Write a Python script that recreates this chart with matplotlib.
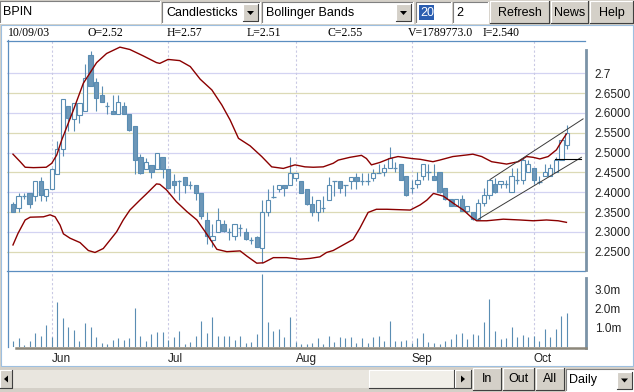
import matplotlib
matplotlib.use('Agg')
import matplotlib.pyplot as plt
from matplotlib.patches import Rectangle, Polygon

# ---- data (bar index 0 = first trading day shown) ----
opens = [2.370, 2.360, 2.391, 2.397, 2.391, 2.428, 2.391, 2.408, 2.447, 2.508,
         2.617, 2.585, 2.596, 2.606, 2.745, 2.677, 2.646, 2.617, 2.606, 2.597,
         2.617, 2.598, 2.567, 2.489, 2.458, 2.469, 2.459, 2.489, 2.458, 2.428,
         2.428, 2.439, 2.418, 2.418, 2.399, 2.330, 2.279, 2.299, 2.321, 2.299,
         2.290, 2.310, 2.299, 2.279, 2.288, 2.259, 2.349, 2.388, 2.408, 2.418,
         2.418, 2.437, 2.428, 2.408, 2.370, 2.349, 2.361, 2.380, 2.428, 2.428,
         2.418, 2.428, 2.439, 2.428, 2.428, 2.437, 2.448, 2.450, 2.460, 2.460,
         2.471, 2.441, 2.410, 2.420, 2.441, 2.450, 2.441, 2.450, 2.410, 2.382,
         2.364, 2.382, 2.353, 2.351, 2.332, 2.372, 2.393, 2.420, 2.420, 2.420,
         2.401, 2.431, 2.431, 2.450, 2.460, 2.425, 2.441, 2.441, 2.450, 2.481,
         2.520]
highs = [2.375, 2.399, 2.399, 2.399, 2.428, 2.439, 2.408, 2.460, 2.529, 2.636,
         2.617, 2.625, 2.625, 2.723, 2.755, 2.688, 2.669, 2.627, 2.646, 2.646,
         2.627, 2.598, 2.567, 2.497, 2.487, 2.469, 2.498, 2.489, 2.458, 2.447,
         2.430, 2.439, 2.428, 2.418, 2.399, 2.351, 2.321, 2.361, 2.330, 2.310,
         2.321, 2.320, 2.310, 2.288, 2.290, 2.380, 2.408, 2.418, 2.418, 2.418,
         2.489, 2.448, 2.428, 2.408, 2.391, 2.380, 2.391, 2.439, 2.428, 2.428,
         2.418, 2.439, 2.448, 2.448, 2.448, 2.458, 2.470, 2.470, 2.513, 2.475,
         2.471, 2.441, 2.431, 2.450, 2.471, 2.471, 2.471, 2.450, 2.410, 2.382,
         2.382, 2.393, 2.364, 2.351, 2.382, 2.410, 2.431, 2.435, 2.429, 2.431,
         2.460, 2.460, 2.486, 2.481, 2.460, 2.441, 2.471, 2.471, 2.490, 2.532,
         2.570]
lows = [2.350, 2.349, 2.383, 2.359, 2.378, 2.378, 2.378, 2.408, 2.447, 2.491,
        2.554, 2.554, 2.575, 2.606, 2.669, 2.606, 2.627, 2.597, 2.597, 2.597,
        2.597, 2.554, 2.447, 2.447, 2.458, 2.437, 2.459, 2.437, 2.410, 2.397,
        2.380, 2.397, 2.408, 2.380, 2.332, 2.269, 2.261, 2.299, 2.299, 2.279,
        2.279, 2.289, 2.279, 2.269, 2.261, 2.221, 2.340, 2.385, 2.400, 2.391,
        2.418, 2.428, 2.397, 2.368, 2.340, 2.328, 2.349, 2.380, 2.391, 2.399,
        2.391, 2.408, 2.408, 2.418, 2.418, 2.428, 2.448, 2.440, 2.460, 2.450,
        2.431, 2.390, 2.397, 2.410, 2.431, 2.431, 2.431, 2.399, 2.380, 2.364,
        2.364, 2.353, 2.347, 2.330, 2.330, 2.364, 2.382, 2.399, 2.410, 2.410,
        2.401, 2.420, 2.420, 2.450, 2.420, 2.420, 2.441, 2.441, 2.450, 2.481,
        2.510]
closes = [2.351, 2.391, 2.391, 2.371, 2.428, 2.393, 2.408, 2.458, 2.508, 2.636,
          2.588, 2.625, 2.625, 2.687, 2.669, 2.638, 2.627, 2.617, 2.598, 2.627,
          2.598, 2.558, 2.481, 2.449, 2.477, 2.451, 2.498, 2.459, 2.410, 2.418,
          2.428, 2.418, 2.418, 2.399, 2.340, 2.290, 2.290, 2.330, 2.301, 2.299,
          2.320, 2.310, 2.282, 2.279, 2.263, 2.349, 2.380, 2.388, 2.418, 2.410,
          2.448, 2.448, 2.399, 2.371, 2.351, 2.380, 2.361, 2.418, 2.428, 2.410,
          2.418, 2.439, 2.428, 2.428, 2.428, 2.448, 2.448, 2.460, 2.486, 2.460,
          2.431, 2.393, 2.410, 2.430, 2.471, 2.450, 2.431, 2.401, 2.382, 2.364,
          2.382, 2.353, 2.364, 2.332, 2.372, 2.393, 2.431, 2.401, 2.429, 2.420,
          2.441, 2.431, 2.481, 2.471, 2.431, 2.425, 2.450, 2.460, 2.481, 2.532,
          2.550]
volumes = [0.31, 0.49, 0.10, 0.31, 0.75, 0.57, 1.15, 0.54, 2.34, 1.53, 1.06, 0.89,
           0.31, 1.23, 1.02, 0.54, 0.23, 0.16, 0.36, 0.49, 0.36, 0.45, 2.05, 0.59,
           0.31, 0.68, 0.78, 0.78, 0.36, 0.54, 0.83, 0.16, 0.26, 0.57, 1.35, 0.71,
           1.58, 0.57, 0.57, 0.57, 0.36, 0.57, 0.19, 0.28, 0.68, 3.78, 1.30, 0.83,
           0.94, 0.54, 1.56, 0.28, 0.16, 0.16, 0.19, 0.45, 0.16, 0.59, 0.28, 0.54,
           0.49, 0.54, 0.19, 0.49, 0.19, 0.54, 0.59, 0.31, 1.35, 0.31, 0.31, 0.36,
           0.19, 0.45, 0.71, 0.26, 0.19, 0.16, 0.33, 0.40, 0.66, 0.71, 0.40, 0.66,
           0.63, 1.30, 2.52, 0.83, 0.42, 0.49, 1.06, 0.54, 0.63, 0.54, 0.59, 0.31,
           0.94, 0.54, 0.94, 1.63, 1.79]

upper_idx = [0, 1.3, 2.2, 3.7, 6, 7, 7.9, 8.8, 10.9, 12.7, 15.1, 16.9, 19.3, 21.1,
             23.5, 25.9, 26.5, 28, 30.1, 32, 33.8, 35.9, 37.7, 39.2, 40.7, 42.8,
             44.9, 46.7, 48.8, 50.9, 52.7, 54.2, 56, 57.8, 58.7, 60.8, 62.9, 63.8,
             64.7, 66.2, 68, 69.5, 72, 73.5, 75.8, 77, 79.4, 81.9, 83, 84.6, 86.4,
             89.1, 91.2, 92.7, 93.9, 95.1, 96.6, 98.1, 99, 99.9]
upper_band = [2.496, 2.477, 2.463, 2.462, 2.463, 2.473, 2.494, 2.532, 2.607, 2.675,
              2.727, 2.750, 2.766, 2.760, 2.744, 2.727, 2.725, 2.735, 2.732, 2.717,
              2.685, 2.658, 2.620, 2.582, 2.536, 2.517, 2.490, 2.464, 2.460, 2.469,
              2.464, 2.463, 2.464, 2.473, 2.481, 2.488, 2.493, 2.485, 2.469, 2.475,
              2.485, 2.490, 2.485, 2.483, 2.477, 2.481, 2.490, 2.494, 2.496, 2.490,
              2.477, 2.471, 2.477, 2.490, 2.488, 2.484, 2.490, 2.507, 2.528, 2.547]
lower_idx = [0, 0.9, 2.2, 3.1, 5.5, 6.7, 7.6, 8.5, 9.1, 10.3, 12.1, 13.6, 14.8, 16.3,
             17.5, 18.7, 19.9, 21.1, 22.9, 24.1, 25.9, 26.5, 27.7, 29.5, 31.4, 33.2,
             34.9, 36.8, 38.6, 41, 42.2, 44, 45.2, 47, 49.4, 51.8, 53.6, 55.4, 56.6,
             57.8, 59.6, 61.4, 62.6, 64.1, 65.6, 67.5, 71.7, 73.5, 74.7, 75.9, 77.7,
             79.5, 81.3, 82.8, 83.7, 85.5, 88.5, 91.5, 93.9, 96.3, 98.4, 99.9]
lower_band = [2.267, 2.296, 2.330, 2.337, 2.338, 2.343, 2.338, 2.317, 2.295, 2.284,
              2.273, 2.253, 2.248, 2.258, 2.279, 2.300, 2.330, 2.355, 2.380, 2.396,
              2.421, 2.420, 2.406, 2.376, 2.351, 2.330, 2.296, 2.256, 2.250, 2.252,
              2.239, 2.221, 2.222, 2.235, 2.235, 2.231, 2.233, 2.237, 2.248, 2.253,
              2.267, 2.281, 2.309, 2.349, 2.357, 2.357, 2.355, 2.368, 2.380, 2.397,
              2.390, 2.372, 2.355, 2.336, 2.328, 2.328, 2.332, 2.330, 2.328, 2.330,
              2.328, 2.324]

# user drawn trend lines (bar index, price)
chan_top_x = [86.1, 102.9]
chan_top_y = [2.432, 2.585]
chan_bot_x = [84.0, 102.6]
chan_bot_y = [2.332, 2.488]
flat_x = [97.9, 102.5]
flat_y = [2.484, 2.484]

month_idx = [7, 28, 51, 72, 94]
month_lbl = ['Jun', 'Jul', 'Aug', 'Sep', 'Oct']
price_ticks = [2.25, 2.30, 2.35, 2.40, 2.45, 2.50, 2.55, 2.60, 2.65, 2.70]
price_lbls = ['2.2500', '2.3000', '2.3500', '2.4000', '2.4500', '2.5000',
              '2.5500', '2.6000', '2.6500', '2.7']
vol_ticks = [1, 2, 3]
vol_lbls = ['1.0m', '2.0m', '3.0m']

info = [(8, '10/09/03'), (87, 'O=2.52'), (167, 'H=2.57'), (247, 'L=2.51'),
        (327, 'C=2.55'), (408, 'V=1789773.0'), (483, 'I=2.540')]

# ---- colours ----
GRAY = '#d4d0c8'
CANDLE = '#5a8db3'
CANDLE_FILL = '#6d97b8'
BAND = '#8b0000'
FRAME = '#5b8ec0'

W, H = 634, 392
fig = plt.figure(figsize=(W / 100, H / 100), dpi=100)
fig.patch.set_facecolor(GRAY)

bg = fig.add_axes([0, 0, 1, 1])
bg.set_xlim(0, W)
bg.set_ylim(H, 0)
bg.axis('off')


def px_axes(x0, y0, x1, y1, z=1):
    a = fig.add_axes([x0 / W, 1 - y1 / H, (x1 - x0) / W, (y1 - y0) / H], zorder=z)
    a.patch.set_alpha(0)
    return a


def box(x0, y0, x1, y1, fc, raised=True):
    bg.add_patch(Rectangle((x0, y0), x1 - x0, y1 - y0, fc=fc, ec='none'))
    tl, br = ('white', '#404040') if raised else ('#808080', 'white')
    bg.plot([x0, x0, x1], [y1, y0, y0], color=tl, lw=0.8)
    bg.plot([x0, x1, x1], [y1, y1, y0], color=br, lw=0.8)


def arrow(cx, cy, d='down'):
    if d == 'down':
        pts = [(cx - 3.5, cy - 2), (cx + 3.5, cy - 2), (cx, cy + 2)]
    elif d == 'left':
        pts = [(cx + 2, cy - 3.5), (cx + 2, cy + 3.5), (cx - 2, cy)]
    else:
        pts = [(cx - 2, cy - 3.5), (cx - 2, cy + 3.5), (cx + 2, cy)]
    bg.add_patch(Polygon(pts, closed=True, fc='black', ec='none'))


def label(x, y, s, size=9, ha='left', family='Liberation Sans', color='black'):
    bg.text(x, y, s, ha=ha, va='center', fontsize=size, family=family, color=color)


# top toolbar
box(0, 1, 160, 23, 'white', raised=False)
label(3, 12, 'BPIN')
box(162, 2, 260, 23, 'white', raised=False)
label(166, 13, 'Candlesticks')
box(243, 4, 258, 21, GRAY)
arrow(250.5, 13)
box(262, 2, 413, 23, 'white', raised=False)
label(266, 13, 'Bollinger Bands')
box(396, 4, 411, 21, GRAY)
arrow(403.5, 13)
box(416, 2, 451, 23, 'white', raised=False)
bg.add_patch(Rectangle((419, 5), 15, 15, fc='#2a5db0', ec='none'))
label(420, 12.5, '20', color='white')
box(453, 2, 488, 23, 'white', raised=False)
label(456, 12.5, '2')
box(490, 1, 549, 23, GRAY)
label(519.5, 12.5, 'Refresh', ha='center')
box(551, 1, 588, 23, GRAY)
label(569.5, 12.5, 'News', ha='center')
box(590, 1, 633, 23, GRAY)
label(611.5, 12.5, 'Help', ha='center')

# white chart panel with light blue border
bg.add_patch(Rectangle((0.5, 24.5), 632, 341.5, fc='white', ec='#9dbfe0', lw=0.8))
for x, s in info:
    label(x, 33, s, size=8.5, family='Liberation Serif')

# bottom toolbar
bg.add_patch(Rectangle((0, 367), W, H - 367, fc=GRAY, ec='none'))
bg.add_patch(Rectangle((12, 370), 443, 18, fc='#e9e6df', ec='none'))
box(0, 370, 12, 388, GRAY)
arrow(6, 379, 'left')
box(369, 370, 454, 388, '#f1efe9')
box(455, 370, 471, 388, GRAY)
arrow(463, 379, 'right')
box(473, 368, 501, 390, GRAY)
label(487, 379, 'In', ha='center')
box(503, 368, 534, 390, GRAY)
label(518.5, 379, 'Out', ha='center')
box(536, 368, 564, 390, GRAY)
label(550, 379, 'All', ha='center')
box(566, 369, 634, 391, 'white', raised=False)
label(569, 380, 'Daily')
box(617, 372, 632, 389, GRAY)
arrow(624.5, 380.5)

# ---- price panel ----
ax = px_axes(7, 40, 585, 270)
vax = px_axes(7, 270, 585, 347)
for a in (ax, vax):
    a.set_xlim(-1.08, 103.25)
    for sp in a.spines.values():
        sp.set_visible(False)
ax.set_ylim(2.2038, 2.784)
vax.set_ylim(0, 4.01)

for k, p in enumerate(price_ticks):
    ax.axhline(p, color='#d3d3f2' if k % 2 else '#dcdab6', lw=0.9, zorder=0)
for m in month_idx:
    for a in (ax, vax):
        a.axvline(m, color='#c9c9e4', lw=0.8, ls=(0, (2, 2)), zorder=0)

for i in range(len(opens)):
    o, h, l, c = opens[i], highs[i], lows[i], closes[i]
    ax.vlines(i, l, h, color=CANDLE, lw=0.8, zorder=2)
    if abs(c - o) < 0.002:
        ax.hlines(o, i - 0.4, i + 0.4, color=CANDLE, lw=0.9, zorder=3)
    else:
        ax.add_patch(Rectangle((i - 0.38, min(o, c)), 0.76, abs(c - o),
                               fc=CANDLE_FILL if c < o else 'white',
                               ec=CANDLE, lw=0.8, zorder=3))

ax.plot(upper_idx, upper_band, color=BAND, lw=1.0, zorder=4)
ax.plot(lower_idx, lower_band, color=BAND, lw=1.0, zorder=4)
ax.plot(chan_top_x, chan_top_y, color='#3a3a3a', lw=0.7, zorder=5)
ax.plot(chan_bot_x, chan_bot_y, color='#3a3a3a', lw=0.7, zorder=5)
ax.plot(flat_x, flat_y, color='black', lw=0.8, zorder=5)

ax.yaxis.tick_right()
ax.set_yticks(price_ticks)
ax.set_yticklabels(price_lbls, family='Liberation Sans', fontsize=8.5, color='#222222')
ax.tick_params(axis='y', length=0, pad=7)
ax.set_xticks([])

# ---- volume panel ----
vax.vlines(range(len(volumes)), 0, volumes, color=CANDLE, lw=0.8)
vax.yaxis.tick_right()
vax.set_yticks(vol_ticks)
vax.set_yticklabels(vol_lbls, family='Liberation Sans', fontsize=8.5, color='#222222')
vax.tick_params(axis='y', length=0, pad=7)
vax.set_xticks(month_idx)
vax.set_xticklabels(month_lbl, family='Liberation Sans', fontsize=8.5,
                    color='#222222', ha='left')
vax.tick_params(axis='x', length=0, pad=4)

# ---- frame lines on top ----
fg = fig.add_axes([0, 0, 1, 1], zorder=10)
fg.set_xlim(0, W)
fg.set_ylim(H, 0)
fg.axis('off')
fg.patch.set_alpha(0)
fg.plot([7, 585], [40.5, 40.5], color=FRAME, lw=0.9)
fg.plot([7.5, 7.5], [40, 347], color=FRAME, lw=0.9)
fg.plot([7, 585], [270.5, 270.5], color=FRAME, lw=0.9)
fg.plot([586, 586], [50, 270], color='#7b93a7', lw=2.0)
fg.plot([586, 586], [278, 348], color='#7b93a7', lw=2.0)
fg.plot([16, 586], [347.5, 347.5], color='#8c877a', lw=1.8)

fig.savefig('out.png', dpi=100, facecolor=fig.get_facecolor())
